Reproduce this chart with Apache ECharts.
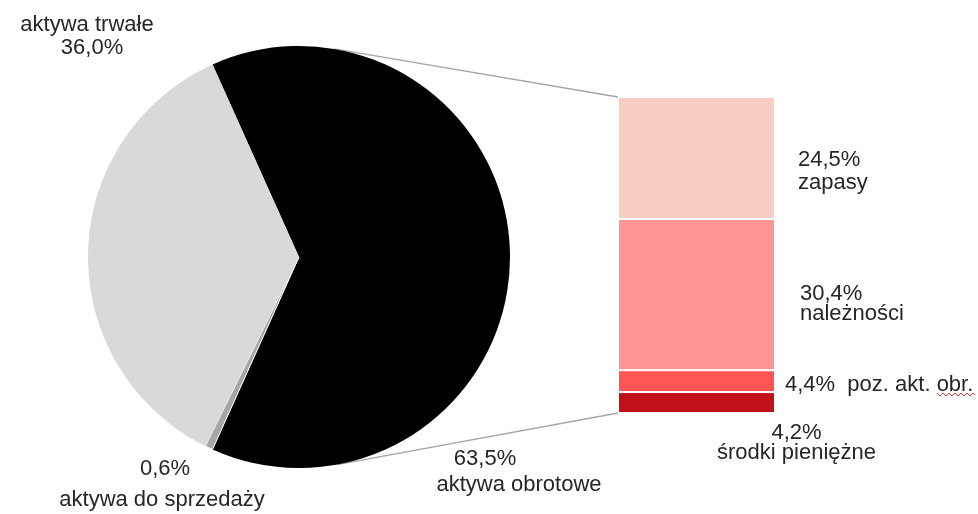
<!DOCTYPE html>
<html>
<head>
<meta charset="utf-8">
<script src="https://cdn.jsdelivr.net/npm/echarts@6/dist/echarts.min.js"></script>
<style>
html,body{margin:0;padding:0;background:#fff;}
#chart{width:978px;height:514px;}
</style>
</head>
<body>
<div id="chart"></div>
<script>
// ---- data ----
const pieNames = ['aktywa obrotowe', 'aktywa do sprzedaży', 'aktywa trwałe'];
const pieValues = [63.5, 0.6, 36.0];
const pieColors = ['#000000', '#a6a6a6', '#d9d9d9'];

const barNames = ['zapasy', 'należności', 'poz. akt. obr.', 'środki pieniężne']; // top to bottom
const barValues = [24.5, 30.4, 4.4, 4.2];
const barColors = ['#f9ccc1', '#ff9595', '#ff5555', '#c0101a'];

// ---- layout ----
const FONT = '"Liberation Sans", Arial, sans-serif';
const TXT = '#262626';
const pieCenter = [299, 257];
const pieRadius = 211;
const grid = {left: 618, top: 97, width: 157, height: 316};

function pct(v) { return v.toFixed(1).replace('.', ',') + '%'; }

const pieTotal = pieValues.reduce((a, b) => a + b, 0);
const barTotal = barValues.reduce((a, b) => a + b, 0);
// first slice centred on the right-hand side (towards the bar)
const startAngle = (pieValues[0] / pieTotal) * 180;

// pie label placement
const pieLabelPos = [
  {x: 519, y: 472},
  {x: 162, y: 484},
  {x: 87, y: 36}
];
const pieLabelRich = [
  {fmt: (n, v) => '{v|' + v + '}\n{n|' + n + '}', lh: 26, vpad: [0, 68, 0, 0]},
  {fmt: (n, v) => '{v|' + v + '}\n{n|' + n + '}', lh: 31, vpad: [0, 0, 0, 6]},
  {fmt: (n, v) => '{n|' + n + '}\n{v|' + v + '}', lh: 23, vpad: [0, 0, 0, 10]}
];

const pieData = pieNames.map((n, i) => ({
  name: n,
  value: pieValues[i],
  itemStyle: {color: pieColors[i], borderColor: '#fff', borderWidth: i === 1 ? 1 : 0},
  label: {
    formatter: pieLabelRich[i].fmt(n, pct(pieValues[i])),
    rich: {
      v: {fontFamily: FONT, fontSize: 22, color: TXT, lineHeight: pieLabelRich[i].lh, padding: pieLabelRich[i].vpad},
      n: {fontFamily: FONT, fontSize: 22, color: TXT, lineHeight: pieLabelRich[i].lh}
    }
  }
}));

// bar label placement, top to bottom
const barLabelCfg = [
  {position: 'right', distance: 23, offset: [0, 13], lh: 23, align: 'left', fmt: (n, v) => v + '\n' + n},
  {position: 'right', distance: 25, offset: [0, 9], lh: 20, align: 'left', fmt: (n, v) => v + '\n' + n},
  {position: 'right', distance: 10, offset: [0, 4], lh: 22, align: 'left', fmt: (n, v) => v + '  ' + n},
  {position: 'bottom', distance: 10, offset: [100, 0], lh: 20, align: 'center', fmt: (n, v) => v + '\n' + n}
];

// stacked from bottom: reverse order
const barSeries = barNames.map((n, i) => ({
  name: n,
  type: 'bar',
  stack: 'total',
  barWidth: '100%',
  data: [barValues[i]],
  itemStyle: {color: barColors[i], borderColor: '#fff', borderWidth: 1},
  label: {
    show: true,
    position: barLabelCfg[i].position,
    distance: barLabelCfg[i].distance,
    offset: barLabelCfg[i].offset,
    align: barLabelCfg[i].align,
    fontFamily: FONT,
    fontSize: 22,
    color: TXT,
    lineHeight: barLabelCfg[i].lh,
    overflow: 'none',
    formatter: () => barLabelCfg[i].fmt(n, pct(barValues[i]))
  },
  z: 2
})).reverse();

// tangent lines from bar corners to the pie circle
function tangentPoint(P, upper) {
  const dx = P[0] - pieCenter[0], dy = P[1] - pieCenter[1];
  const d = Math.sqrt(dx * dx + dy * dy);
  const th = Math.atan2(dy, dx);
  const a = Math.acos(pieRadius / d);
  const ang = upper ? th - a : th + a;
  return [pieCenter[0] + pieRadius * Math.cos(ang), pieCenter[1] + pieRadius * Math.sin(ang)];
}
const topCorner = [grid.left, grid.top];
const botCorner = [grid.left, grid.top + grid.height];
const t1 = tangentPoint(topCorner, true);
const t2 = tangentPoint(botCorner, false);

const chart = echarts.init(document.getElementById('chart'), null, {renderer: 'canvas'});
chart.setOption({
  backgroundColor: '#fff',
  animation: false,
  grid: {left: grid.left, top: grid.top, width: grid.width, height: grid.height},
  xAxis: {type: 'category', data: [''], show: false},
  yAxis: {type: 'value', min: 0, max: barTotal, show: false},
  series: [
    {
      type: 'pie',
      center: pieCenter,
      radius: pieRadius,
      startAngle: startAngle,
      clockwise: true,
      data: pieData,
      label: {show: true, position: 'inside', overflow: 'none'},
      labelLine: {show: false},
      labelLayout: function (p) {
        const pos = pieLabelPos[p.dataIndex];
        return {x: pos.x, y: pos.y, align: 'center', verticalAlign: 'middle'};
      },
      emphasis: {disabled: true},
      z: 3
    }
  ].concat(barSeries),
  graphic: [
    {type: 'line', shape: {x1: topCorner[0], y1: topCorner[1], x2: t1[0], y2: t1[1]},
     style: {stroke: '#a6a6a6', lineWidth: 1.3}, z: 1},
    {type: 'line', shape: {x1: botCorner[0], y1: botCorner[1], x2: t2[0], y2: t2[1]},
     style: {stroke: '#a6a6a6', lineWidth: 1.3}, z: 1},
    {type: 'polyline', shape: {points: [[937,393],[940,396],[943,393],[946,396],[949,393],[952,396],[955,393],[958,396],[961,393],[964,396],[967,393],[970,396],[973,393],[975,395]]},
     style: {stroke: '#e04040', lineWidth: 1, fill: null}, z: 1}
  ]
});
</script>
</body>
</html>
